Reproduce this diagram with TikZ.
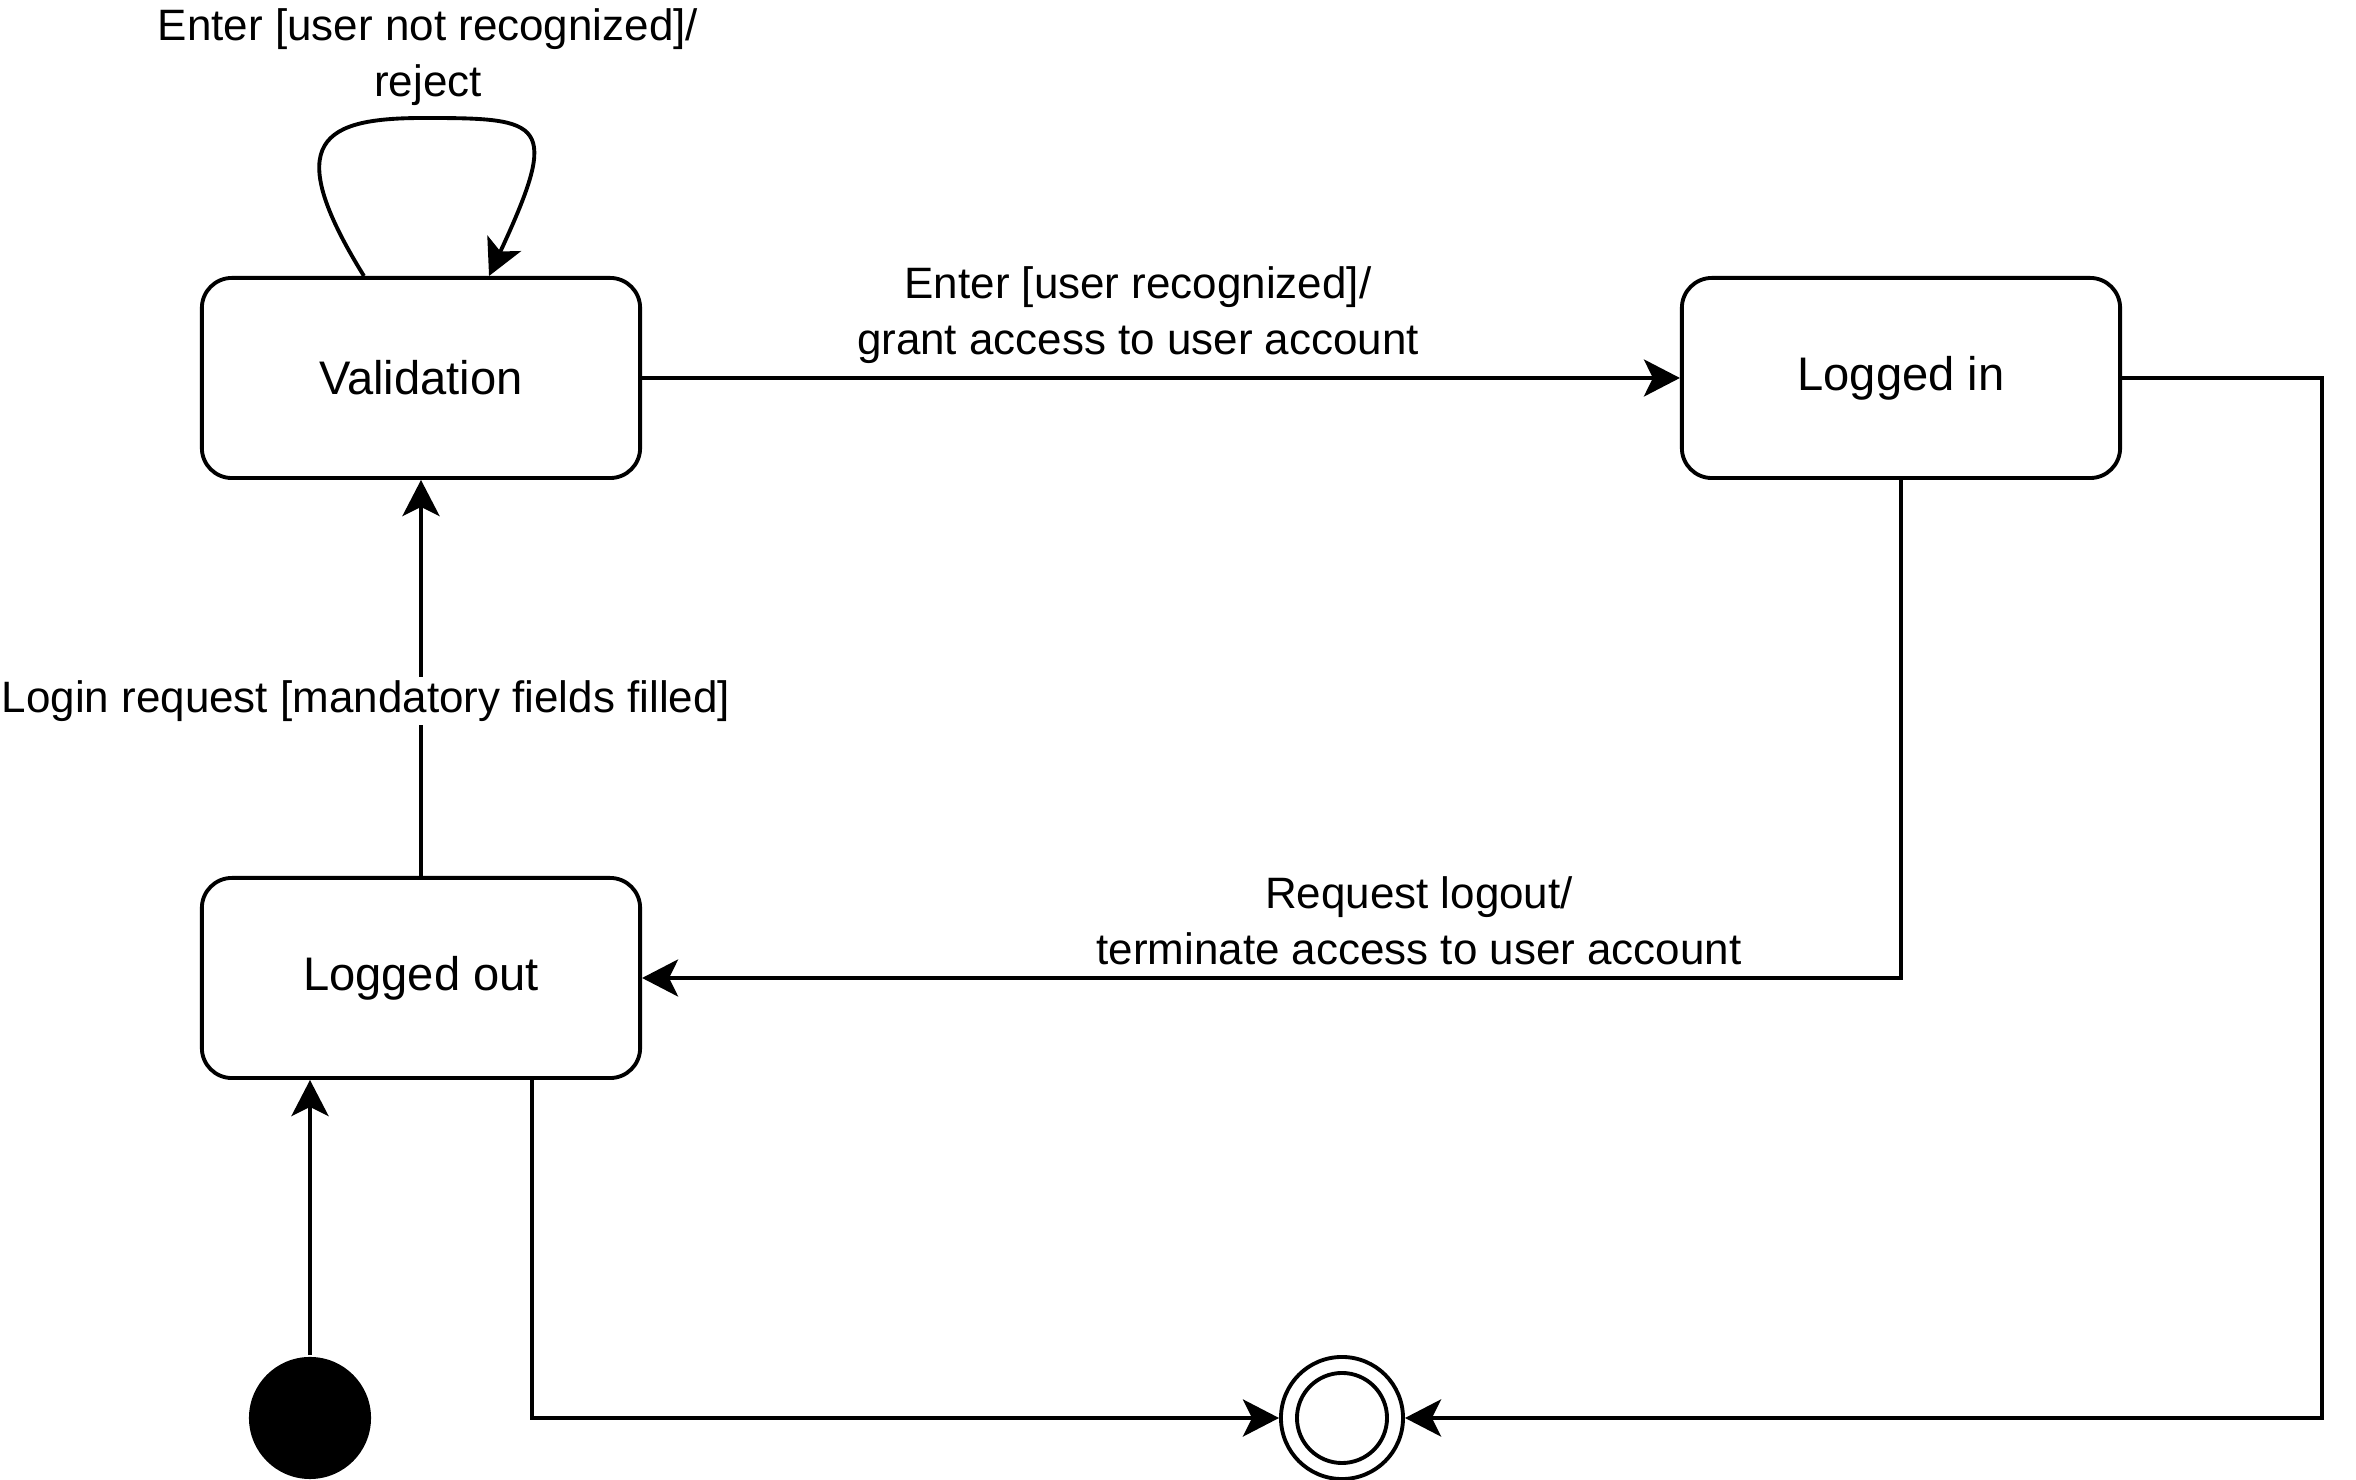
\documentclass[tikz,border=0pt]{standalone}
\usepackage{fontspec}
\setmainfont{Liberation Sans}
\usetikzlibrary{arrows.meta}
\tikzset{
  every picture/.style={line width=1.1pt, >={Stealth[length=0.36cm, width=0.37cm, inset=0.09cm]}},
  state/.style={draw, rounded corners=0.3cm, minimum width=4.38cm, minimum height=2cm, font=\fontsize{13.4}{16}\selectfont},
  trans/.style={align=center, font=\fontsize{12.5}{15.9}\selectfont},
  initial/.style={circle, fill=black, minimum size=1.22cm, inner sep=0pt},
  final/.style={circle, draw, minimum size=1.22cm, inner sep=0pt,
    path picture={\draw (path picture bounding box.center) circle (0.45cm);}},
}

\begin{document}
\begin{tikzpicture}[x=0.01cm, y=-0.01cm]
  \useasboundingbox (0,0) rectangle (2356,1480);

  \node [state] (validation) at (421,378) {Validation};
  \node [state] (loggedin) at (1901,378) {Logged in};
  \node [state] (loggedout) at (421,978) {Logged out};
  \node [initial] (init) at (310,1418) {};
  \node [final] (end) at (1342,1418) {};

  % self transition on top of validation
  \draw [->] ([xshift=-0.57cm]validation.north) .. controls (279,139) and (324,118) .. (424,118)
    .. controls (544,118) and (561,121) .. ([xshift=0.68cm]validation.north);
  \node [trans] (reject) at (428,57) {Enter [user not recognized]/\\reject};

  \draw [->] (validation.east) -- (loggedin.west);
  \node [trans] (grant) at (1138,315) {Enter [user recognized]/\\grant access to user account};
  \draw [->] (loggedin.south) |- (loggedout.east);
  \node [trans] (logout) at (1419,921) {Request logout/\\terminate access to user account};
  \draw [->] (loggedin.east) -- ++(2cm,0) |- (end.east);
  \draw [->] ([xshift=1.11cm]loggedout.south) |- (end.west);
  \draw [->] (loggedout.north) -- (validation.south)
    node [trans, pos=0.441, fill=white, xshift=-0.55cm, inner sep=1pt] (login) {Login request [mandatory fields filled]};
  \draw [->] (init) -- (init |- loggedout.south);

\end{tikzpicture}
\end{document}
